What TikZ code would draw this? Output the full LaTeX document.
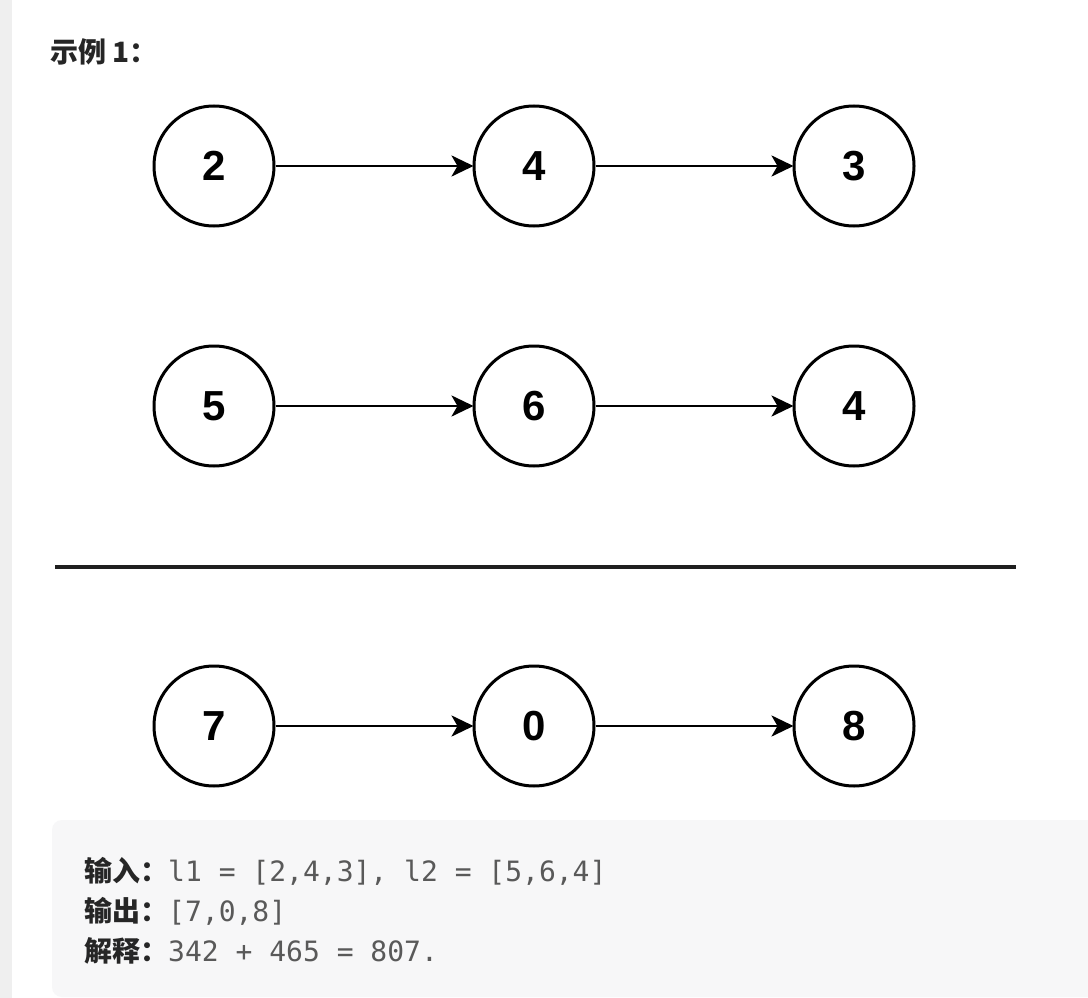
\documentclass[tikz,border=0pt]{standalone}
\usepackage{fontspec}
\setmainfont{Liberation Sans}
\newfontfamily\cjk{Noto Sans CJK SC}
\newfontfamily\codefont{DejaVu Sans Mono}
\usetikzlibrary{arrows.meta}
\definecolor{pagegrey}{HTML}{EFEFEF}
\definecolor{boxgrey}{HTML}{F7F7F8}
\definecolor{labelink}{HTML}{262626}
\definecolor{codeink}{HTML}{595959}
\tikzset{
  listnode/.style={circle, draw=black, line width=3pt, minimum size=120pt, inner sep=0pt,
    font=\fontsize{42}{42}\selectfont\bfseries, text=black},
  link/.style={line width=2.9pt, -{Stealth[length=22pt, width=21pt, inset=6pt]}, shorten >=-1pt},
  textline/.style={anchor=west, inner sep=0pt, font=\fontsize{28}{28}\selectfont},
}
\begin{document}
\begin{tikzpicture}[x=1pt, y=-1pt]
\useasboundingbox (0,0) rectangle (1088,998);
\fill[white] (0,0) rectangle (1088,998);
\fill[pagegrey] (0,0) rectangle (12,998);

% heading
\node[textline, text=labelink] (title) at (50,52) {\cjk\bfseries 示例 1：};

% the three lists: two operands and their sum
\begin{scope}
\clip (12,0) rectangle (1088,787);
\foreach \row/\y/\a/\b/\c in {one/166/2/4/3, two/406/5/6/4, sum/726/7/0/8} {
  \node[listnode] (\row-a) at (214,\y) {\a};
  \node[listnode] (\row-b) at (534,\y) {\b};
  \node[listnode] (\row-c) at (854,\y) {\c};
  \draw[link] (\row-a) -- (\row-b);
  \draw[link] (\row-b) -- (\row-c);
}
\end{scope}

% addition rule
\coordinate (ruleL) at (55,567);
\coordinate (ruleR) at (1016,567);
\draw[line width=3.2pt, color=black!88] (ruleL) -- (ruleR);

% explanation box
\fill[boxgrey, rounded corners=10pt] (52,820) rectangle (1120,997);
\node[textline] (in) at (84,871) {{\color{labelink}\cjk\bfseries 输入：}{\color{codeink}\codefont l1 = [2,4,3], l2 = [5,6,4]}};
\node[textline] (out) at (84,911) {{\color{labelink}\cjk\bfseries 输出：}{\color{codeink}\codefont [7,0,8]}};
\node[textline] (why) at (84,951) {{\color{labelink}\cjk\bfseries 解释：}{\color{codeink}\codefont 342 + 465 = 807.}};
\end{tikzpicture}
\end{document}
